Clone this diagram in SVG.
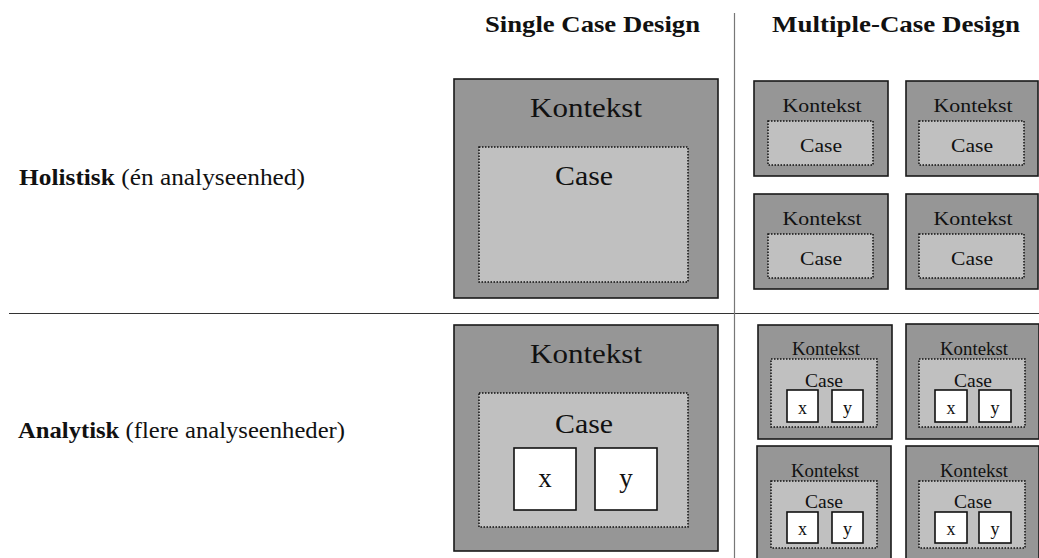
<svg xmlns="http://www.w3.org/2000/svg" width="1039" height="558" viewBox="0 0 1039 558">
<style>
text{font-family:"Liberation Serif","DejaVu Serif",serif;fill:#111}
.hdr{font-weight:bold;font-size:24px}
.lbl{font-size:23px}
.b{font-weight:bold}
.outer{fill:#969696;stroke:#1a1a1a;stroke-width:1.6}
.inner{fill:#c0c0c0;stroke:#111;stroke-width:1.5;stroke-dasharray:1.5 1.5}
.unit{fill:#fff;stroke:#111;stroke-width:1.6}
.hline{stroke:#333;stroke-width:1.2;fill:none}
.vline{stroke:#777;stroke-width:1.2;fill:none}
.c{text-anchor:middle}
.big1{font-size:28px}
.big2{font-size:27px}
.m1{font-size:19px}
.m2{font-size:18px}
</style>
<rect width="1039" height="558" fill="#fff"/>
<g id="connectors">
<line class="hline" x1="9" y1="313.5" x2="1039" y2="313.5"/>
<line class="vline" x1="734.5" y1="13" x2="734.5" y2="558"/>
</g>
<g id="headers">
<text class="hdr" x="485" y="32" textLength="215" lengthAdjust="spacingAndGlyphs">Single Case Design</text>
<text class="hdr" x="772" y="32" textLength="248" lengthAdjust="spacingAndGlyphs">Multiple-Case Design</text>
</g>
<g id="row-holistisk">
<text class="lbl" x="19" y="185" textLength="286" lengthAdjust="spacingAndGlyphs"><tspan class="b">Holistisk</tspan> (én analyseenhed)</text>
</g>
<g id="row-analytisk">
<text class="lbl" x="18" y="438" textLength="327" lengthAdjust="spacingAndGlyphs"><tspan class="b">Analytisk</tspan> (flere analyseenheder)</text>
</g>
<g id="single-holistic">
<rect class="outer" x="454" y="79" width="264" height="219"/>
<text class="c big1" x="586" y="117" textLength="112" lengthAdjust="spacingAndGlyphs">Kontekst</text>
<rect class="inner" x="479" y="147" width="209" height="135"/>
<text class="c big2" x="584" y="185" textLength="58" lengthAdjust="spacingAndGlyphs">Case</text>
</g>
<g id="single-analytic">
<rect class="outer" x="454" y="325" width="264" height="226"/>
<text class="c big1" x="586" y="363" textLength="112" lengthAdjust="spacingAndGlyphs">Kontekst</text>
<rect class="inner" x="479" y="393" width="209" height="134"/>
<text class="c big2" x="584" y="433" textLength="58" lengthAdjust="spacingAndGlyphs">Case</text>
<rect class="unit" x="514" y="448" width="62" height="62"/>
<text class="c big2" x="545" y="487">x</text>
<rect class="unit" x="595" y="448" width="62" height="62"/>
<text class="c big2" x="626" y="487">y</text>
</g>
<g id="multi-holistic-1">
<rect class="outer" x="754" y="81" width="134" height="95"/>
<text class="c m1" x="822" y="112" textLength="79" lengthAdjust="spacingAndGlyphs">Kontekst</text>
<rect class="inner" x="768" y="121" width="105" height="44"/>
<text class="c m1" x="821" y="152" textLength="42" lengthAdjust="spacingAndGlyphs">Case</text>
</g>
<g id="multi-holistic-2">
<rect class="outer" x="906" y="81" width="132" height="95"/>
<text class="c m1" x="973" y="112" textLength="79" lengthAdjust="spacingAndGlyphs">Kontekst</text>
<rect class="inner" x="919" y="121" width="105" height="44"/>
<text class="c m1" x="972" y="152" textLength="42" lengthAdjust="spacingAndGlyphs">Case</text>
</g>
<g id="multi-holistic-3">
<rect class="outer" x="754" y="194" width="134" height="95"/>
<text class="c m1" x="822" y="225" textLength="79" lengthAdjust="spacingAndGlyphs">Kontekst</text>
<rect class="inner" x="768" y="234" width="105" height="44"/>
<text class="c m1" x="821" y="265" textLength="42" lengthAdjust="spacingAndGlyphs">Case</text>
</g>
<g id="multi-holistic-4">
<rect class="outer" x="906" y="194" width="132" height="95"/>
<text class="c m1" x="973" y="225" textLength="79" lengthAdjust="spacingAndGlyphs">Kontekst</text>
<rect class="inner" x="919" y="234" width="105" height="44"/>
<text class="c m1" x="972" y="265" textLength="42" lengthAdjust="spacingAndGlyphs">Case</text>
</g>
<g id="multi-analytic-1">
<rect class="outer" x="758" y="325" width="134" height="114"/>
<text class="c m2" x="826" y="355" textLength="68" lengthAdjust="spacingAndGlyphs">Kontekst</text>
<rect class="inner" x="771" y="359" width="106" height="68"/>
<text class="c m2" x="824" y="387" textLength="38" lengthAdjust="spacingAndGlyphs">Case</text>
<rect class="unit" x="787" y="390" width="31" height="32"/>
<text class="c m2" x="802.5" y="414">x</text>
<rect class="unit" x="832" y="390" width="31" height="32"/>
<text class="c m2" x="847.5" y="414">y</text>
</g>
<g id="multi-analytic-2">
<rect class="outer" x="906" y="324" width="133" height="115"/>
<text class="c m2" x="974" y="355" textLength="68" lengthAdjust="spacingAndGlyphs">Kontekst</text>
<rect class="inner" x="919" y="359" width="106" height="68"/>
<text class="c m2" x="973" y="387" textLength="38" lengthAdjust="spacingAndGlyphs">Case</text>
<rect class="unit" x="935" y="390" width="32" height="32"/>
<text class="c m2" x="951" y="414">x</text>
<rect class="unit" x="979" y="390" width="32" height="32"/>
<text class="c m2" x="995" y="414">y</text>
</g>
<g id="multi-analytic-3">
<rect class="outer" x="757" y="446" width="134" height="120"/>
<text class="c m2" x="825" y="477" textLength="68" lengthAdjust="spacingAndGlyphs">Kontekst</text>
<rect class="inner" x="771" y="481" width="106" height="67"/>
<text class="c m2" x="824" y="508" textLength="38" lengthAdjust="spacingAndGlyphs">Case</text>
<rect class="unit" x="787" y="512" width="31" height="31"/>
<text class="c m2" x="802.5" y="535">x</text>
<rect class="unit" x="832" y="512" width="31" height="31"/>
<text class="c m2" x="847.5" y="535">y</text>
</g>
<g id="multi-analytic-4">
<rect class="outer" x="906" y="446" width="133" height="120"/>
<text class="c m2" x="974" y="477" textLength="68" lengthAdjust="spacingAndGlyphs">Kontekst</text>
<rect class="inner" x="919" y="481" width="106" height="67"/>
<text class="c m2" x="973" y="508" textLength="38" lengthAdjust="spacingAndGlyphs">Case</text>
<rect class="unit" x="935" y="512" width="32" height="31"/>
<text class="c m2" x="951" y="535">x</text>
<rect class="unit" x="979" y="512" width="32" height="31"/>
<text class="c m2" x="995" y="535">y</text>
</g>
</svg>
